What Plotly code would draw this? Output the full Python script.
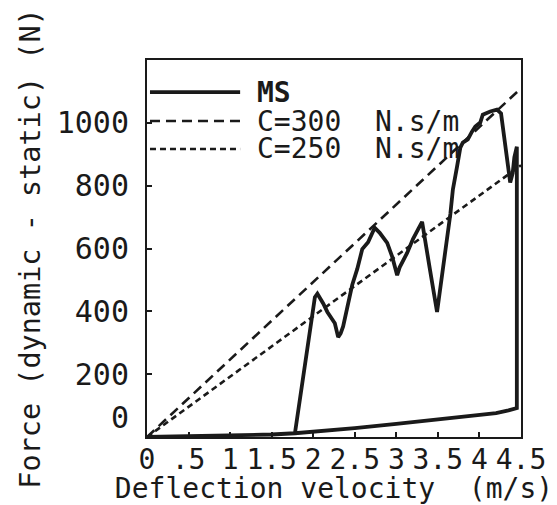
import plotly.graph_objects as go

# ---------------- data ----------------
x_tick_vals = [0, 0.5, 1, 1.5, 2, 2.5, 3, 3.5, 4, 4.5]
x_tick_labels = ["0", ".5", "1", "1.5", "2", "2.5", "3", "3.5", "4", "4.5"]
y_tick_vals = [0, 200, 400, 600, 800, 1000]
y_tick_labels = ["0<br> ", "200", "400", "600", "800", "1000"]

# MS measured loop: lower (loading) branch, left -> right
ms_lower_x = [0.0, 0.5, 1.0, 1.5, 1.78, 2.0, 2.5, 3.0, 3.5, 4.0, 4.2, 4.35, 4.45]
ms_lower_y = [0, 2, 4, 8, 12, 16, 28, 42, 55, 68, 76, 85, 92]

# MS upper branch, left -> right
ms_upper_x = [1.78, 1.88, 1.99, 2.02, 2.05, 2.08, 2.12, 2.17, 2.20, 2.26, 2.30, 2.33,
              2.36, 2.41, 2.47, 2.53, 2.59, 2.66, 2.70, 2.74, 2.80, 2.89, 2.95, 3.01,
              3.04, 3.08, 3.13, 3.20, 3.26, 3.31, 3.40, 3.49, 3.57, 3.65, 3.68, 3.73,
              3.77, 3.80, 3.86, 3.91, 3.95, 4.01, 4.04, 4.13, 4.21, 4.26, 4.37, 4.40,
              4.42, 4.45]
ms_upper_y = [12, 200, 390, 445, 456, 445, 425, 398, 383, 362, 318, 330,
              352, 405, 485, 535, 598, 620, 645, 666, 650, 618, 574, 515,
              540, 560, 586, 630, 660, 685, 540, 398, 554, 710, 787, 860,
              921, 937, 947, 972, 988, 1001, 1026, 1036, 1042, 1030, 810, 840,
              890, 924]

c300_x = [0, 4.5]
c300_y = [0, 1110]
c250_x = [0, 4.5]
c250_y = [0, 865]

series_names = ["MS", "C=300  N.s/m", "C=250  N.s/m"]

# ---------------- figure ----------------
FONT = "DejaVu Sans Mono"
INK = "#1a1a1a"

ms_x = ms_lower_x + [ms_lower_x[-1]] + ms_upper_x[::-1]
ms_y = ms_lower_y + [ms_upper_y[-1]] + ms_upper_y[::-1]

fig = go.Figure()
fig.add_trace(go.Scatter(x=c300_x, y=c300_y, mode="lines", name=series_names[1],
                         line=dict(color=INK, width=2.6, dash="10px,6px"),
                         showlegend=False))
fig.add_trace(go.Scatter(x=c250_x, y=c250_y, mode="lines", name=series_names[2],
                         line=dict(color=INK, width=2.6, dash="6px,4px"),
                         showlegend=False))
fig.add_trace(go.Scatter(x=ms_x, y=ms_y, mode="lines", name=series_names[0],
                         line=dict(color=INK, width=3.8),
                         showlegend=False))

# legend drawn inside the plot (upper left)
legend_rows = [
    (series_names[0], "solid", 0.915, True),
    (series_names[1], "10px,6px", 0.838, False),
    (series_names[2], "6px,4px", 0.764, False),
]
for name, dash, ypos, bold in legend_rows:
    fig.add_shape(type="line", xref="x domain", yref="y domain",
                  x0=0.008, x1=0.249, y0=ypos, y1=ypos,
                  line=dict(color=INK, width=3.8 if bold else 2.6, dash=dash))
    fig.add_annotation(xref="x domain", yref="y domain", x=0.288, y=ypos,
                       xanchor="left", yanchor="middle", showarrow=False,
                       text=f"<b>{name}</b>" if bold else name,
                       font=dict(family=FONT, size=28, color=INK))

axis_common = dict(
    showline=True, linecolor=INK, linewidth=2, mirror=True,
    ticks="inside", ticklen=5, tickwidth=2, tickcolor=INK,
    showgrid=False, zeroline=False, automargin=False,
)

# the page body adds an 8px offset (left/top), so the figure is 8px smaller
fig.update_layout(
    width=549, height=497,
    margin=dict(l=139, r=36, t=52, b=68),
    paper_bgcolor="white", plot_bgcolor="white",
    showlegend=False,
    font=dict(family=FONT, color=INK),
    xaxis=dict(range=[0, 4.5], tickmode="array", tickvals=x_tick_vals,
               ticktext=x_tick_labels, tickangle=0, ticklabelstandoff=-4,
               tickfont=dict(family=FONT, size=28, color=INK),
               title=dict(text="Deflection velocity  (m/s)",
                          font=dict(family=FONT, size=28, color=INK), standoff=0),
               **axis_common),
    yaxis=dict(range=[0, 1200], tickmode="array", tickvals=y_tick_vals,
               ticktext=y_tick_labels, ticklabelstandoff=10,
               tickfont=dict(family=FONT, size=30, color=INK),
               title=dict(text="Force (dynamic - static) (N)",
                          font=dict(family=FONT, size=28.5, color=INK), standoff=8),
               **axis_common),
)

fig.write_html("out.html")
